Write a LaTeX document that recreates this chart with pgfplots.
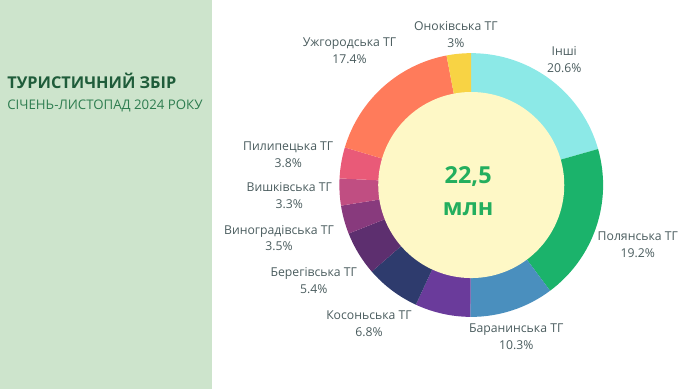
\documentclass[border=0pt]{standalone}
\usepackage{fontspec}
\setmainfont{Open Sans}
\newfontfamily\titlefont{Open Sans}
\usepackage{pgfplots}
\usepackage{pgfplotstable}
\pgfplotsset{compat=1.18}
\definecolor{panel}{HTML}{CDE4CC}
\definecolor{titlecol}{HTML}{1F5C3A}
\definecolor{subcol}{HTML}{2E7D50}
\definecolor{labcol}{HTML}{4A5C5E}
\definecolor{cA}{HTML}{8CE9E7}
\definecolor{cB}{HTML}{1BB36B}
\definecolor{cC}{HTML}{4A8FBE}
\definecolor{cD}{HTML}{6A3B9B}
\definecolor{cE}{HTML}{2E3B6D}
\definecolor{cF}{HTML}{5D2F6F}
\definecolor{cG}{HTML}{883A7D}
\definecolor{cH}{HTML}{C04E82}
\definecolor{cI}{HTML}{E95A78}
\definecolor{cJ}{HTML}{FF7B5B}
\definecolor{cK}{HTML}{F8D344}
\definecolor{innercol}{HTML}{FEF8C6}
\definecolor{centcol}{HTML}{23AE5E}
\pgfplotstableread{
label value col
Inshi 20.6 cA
Polyanska 19.2 cB
Baranynska 10.3 cC
Kosonska 6.8 cD
Other 6.7 cE
Berehivska 5.4 cF
Vynohradivska 3.5 cG
Vyshkivska 3.3 cH
Pylypetska 3.8 cI
Uzhhorodska 17.4 cJ
Onokivska 3.0 cK
}\slices
\begin{document}
\begin{tikzpicture}
\begin{axis}[x=1bp,y=1bp,xmin=0,xmax=678,ymin=0,ymax=381,hide axis,scale only axis,clip=false]
\fill[panel] (axis cs:0,0) rectangle (axis cs:207,381);
\pgfplotstablegetrowsof{\slices}
\pgfmathtruncatemacro\N{\pgfplotsretval-1}
\gdef\cum{0}
\foreach \i in {0,...,\N}{
  \pgfplotstablegetelem{\i}{value}\of\slices \let\v\pgfplotsretval
  \pgfplotstablegetelem{\i}{col}\of\slices \let\c\pgfplotsretval
  \pgfmathsetmacro\a{90-\cum*3.6}
  \pgfmathsetmacro\b{90-(\cum+\v)*3.6}
  \edef\doit{\noexpand\fill[\c] (axis cs:461,200) -- ++(\a:129bp) arc[start angle=\a, end angle=\b, radius=129bp] -- cycle;}
  \doit
  \pgfmathsetmacro\newcum{\cum+\v}\xdef\cum{\newcum}
}
\fill[innercol] (axis cs:461,200) circle[radius=91bp];
\node[anchor=west,inner sep=0,text=titlecol,font=\titlefont\bfseries\fontsize{16}{18}\selectfont] at (axis cs:7,302) {ТУРИСТИЧНИЙ ЗБІР};
\node[anchor=west,inner sep=0,text=subcol,font=\titlefont\fontsize{13}{15}\selectfont] at (axis cs:7,277) {СІЧЕНЬ-ЛИСТОПАД 2024 РОКУ};
\node[text=centcol,font=\titlefont\bfseries\fontsize{23}{26}\selectfont] at (axis cs:458,208) {22,5};
\node[text=centcol,font=\titlefont\bfseries\fontsize{23}{26}\selectfont] at (axis cs:458,176) {млн};
\tikzset{lab/.style={align=center,inner sep=0,text=labcol,font=\fontsize{12}{16.5}\selectfont}}
\node[lab] at (axis cs:446,347) {Оноківська ТГ\\3\%};
\node[lab] at (axis cs:552,323) {Інші\\20.6\%};
\node[lab] at (axis cs:342,331) {Ужгородська ТГ\\17.4\%};
\node[lab] at (axis cs:282,229.5) {Пилипецька ТГ\\3.8\%};
\node[lab] at (axis cs:283,189.5) {Вишківська ТГ\\3.3\%};
\node[lab] at (axis cs:273,148) {Виноградівська ТГ\\3.5\%};
\node[lab] at (axis cs:307,106.5) {Берегівська ТГ\\5.4\%};
\node[lab] at (axis cs:361,64) {Косоньська ТГ\\6.8\%};
\node[lab] at (axis cs:505,51.5) {Баранинська ТГ\\10.3\%};
\node[lab] at (axis cs:624,141.5) {Полянська ТГ\\19.2\%};
\end{axis}
\end{tikzpicture}
\end{document}
